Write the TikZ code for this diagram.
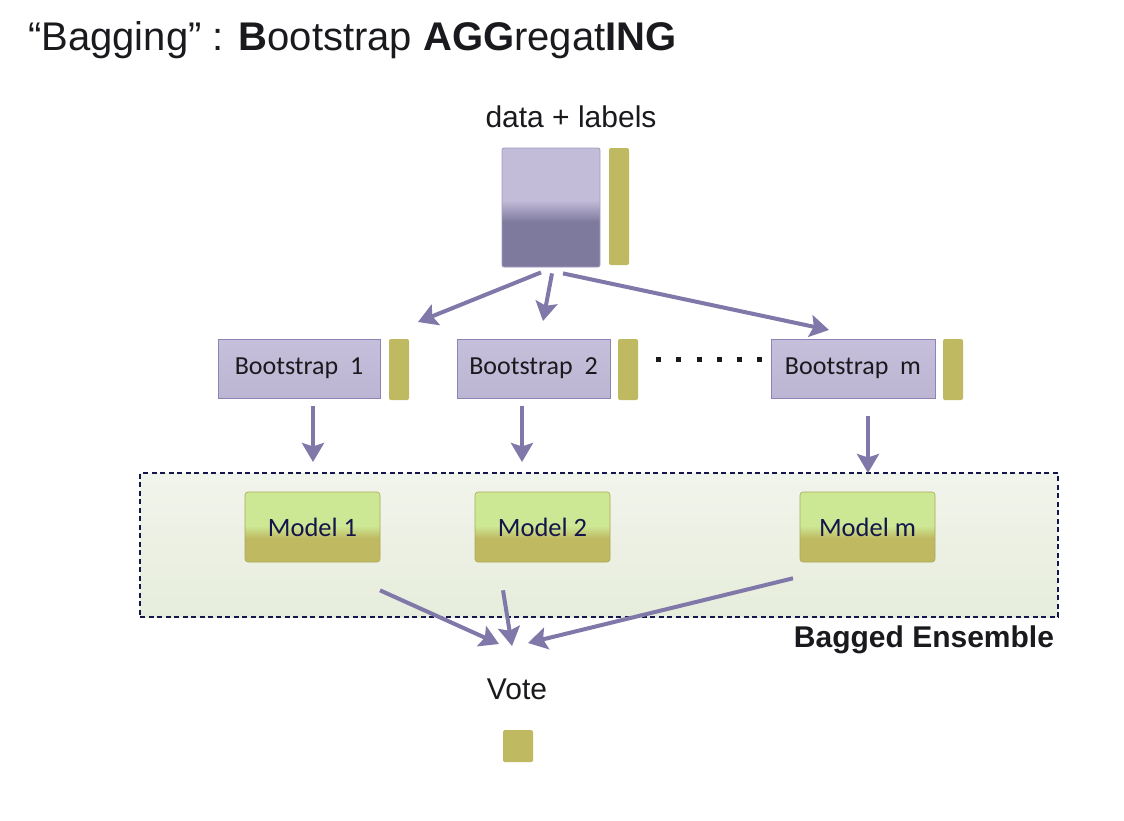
\documentclass[tikz,border=0pt]{standalone}
\usepackage{fontspec}
\setmainfont{Liberation Sans}
\newfontfamily\carl{Carlito}
\usetikzlibrary{arrows.meta,calc}
\definecolor{purL}{RGB}{195,188,217}
\definecolor{purD}{RGB}{126,122,158}
\definecolor{purB}{RGB}{140,132,180}
\definecolor{olive}{RGB}{191,186,98}
\definecolor{greenL}{RGB}{205,232,148}
\definecolor{arr}{RGB}{128,120,168}
\definecolor{ensL}{RGB}{241,244,235}
\definecolor{ensD}{RGB}{231,237,220}
\definecolor{txt}{RGB}{26,26,30}
\pgfdeclareverticalshading{modelsh}{100bp}{color(0bp)=(olive); color(42bp)=(olive); color(51bp)=(greenL); color(100bp)=(greenL)}
\pgfdeclareverticalshading{datash}{100bp}{color(0bp)=(purD); color(44bp)=(purD); color(53bp)=(purL); color(100bp)=(purL)}
\tikzset{
  fs/.style={font=\fontsize{#1}{#1}\selectfont},
  databox/.style={shading=datash, draw=purB!80, line width=0.8pt, rounded corners=2pt, inner sep=0pt},
  labbar/.style={fill=olive, rounded corners=2pt, inner sep=0pt, minimum width=20pt},
  bootbox/.style={top color=purL!95!white, bottom color=purL!90!purD, draw=purB, line width=1pt, inner sep=0pt, minimum height=59pt, font=\carl\fontsize{26}{26}\selectfont, text=txt},
  modelbox/.style={shading=modelsh, draw=olive!90!black, line width=0.6pt, rounded corners=3pt, inner sep=0pt, minimum width=135pt, minimum height=70pt, font=\carl\fontsize{26.5}{26.5}\selectfont, text=txt!80!blue},
  conn/.style={draw=arr, line width=4pt, -{Stealth[length=19pt,width=22pt,inset=3.5pt]}},
  dotmark/.style={fill=txt, rectangle, inner sep=0pt, minimum size=5pt}
}
\begin{document}
\begin{tikzpicture}[x=1pt,y=-1pt]
\useasboundingbox (0,0) rectangle (1124,820);
\fill[white] (0,0) rectangle (1124,820);
% title
\node[anchor=base west, inner sep=0pt, text=txt, fs=40] (title) at (28,50) {``Bagging'' : \textbf{B}ootstrap \textbf{AGG}regat\textbf{ING}};
% data
\node[fs=30, text=txt] (dl) at (571,117) {data + labels};
\node[databox, minimum width=98pt, minimum height=119pt] (data) at (551,207.5) {};
\node[labbar, minimum height=117pt] (lab0) at (619,206.5) {};
% bootstraps
\node[bootbox, minimum width=162pt] (b1) at (299,368.5) {Bootstrap\ \ 1};
\node[labbar, minimum height=61pt] (lab1) at (399,369.5) {};
\node[bootbox, minimum width=153pt] (b2) at (533.5,368.5) {Bootstrap\ \ 2};
\node[labbar, minimum height=61pt] (lab2) at (628,369.5) {};
\node[bootbox, minimum width=164pt] (bm) at (853,368.5) {Bootstrap\ \ m};
\node[labbar, minimum height=61pt] (labm) at (953,369.5) {};
% dots
\foreach \i/\x in {1/658,2/678,3/699,4/719,5/739,6/759}{
  \node[dotmark] (d\i) at (\x,359) {};
}
% ensemble
\node[top color=ensL, bottom color=ensD, draw=txt!80!blue, dash pattern=on 5pt off 3.5pt, line width=1.1pt, inner sep=0pt, minimum width=918pt, minimum height=144pt] (ens) at (599,545) {};
\node[text=txt, font=\bfseries\fontsize{30}{30}\selectfont] (enslab) at (924,640) {Bagged Ensemble};
% models
\node[modelbox] (m1) at (312.5,527) {Model 1};
\node[modelbox] (m2) at (542.5,527) {Model 2};
\node[modelbox] (mm) at (867.5,527) {Model m};
% vote
\node[fs=30, text=txt] (vote) at (517,689) {Vote};
\node[fill=olive, rounded corners=1.5pt, inner sep=0pt, minimum width=30pt, minimum height=32pt] (vbox) at (518,746) {};
% connector coordinates
\coordinate (s1) at ($(data.south)+(-10,5)$);
\coordinate (s2) at ($(data.south)+(1,6)$);
\coordinate (s3) at ($(data.south)+(12,6)$);
\coordinate (e1) at (418,322);
\coordinate (e2) at (543,321);
\coordinate (e3) at (829,330);
\draw[conn] (s1) -- (e1);
\draw[conn] (s2) -- (e2);
\draw[conn] (s3) -- (e3);
\coordinate (t1) at (313,462);
\coordinate (t2) at (522,462);
\coordinate (t3) at (868,473);
\draw[conn] ($(b1.south)+(14,7)$) -- (t1);
\draw[conn] ($(b2.south)+(-11.5,7)$) -- (t2);
\draw[conn] ($(bm.south)+(15,17)$) -- (t3);
\coordinate (v1) at (499,644);
\coordinate (v2) at (512,646);
\coordinate (v3) at (528,643);
\draw[conn] ($(m1.south)+(67.5,28)$) -- (v1);
\draw[conn] ($(m2.south)+(-39.5,28)$) -- (v2);
\draw[conn] ($(mm.south)+(-74.5,16)$) -- (v3);
\end{tikzpicture}
\end{document}
